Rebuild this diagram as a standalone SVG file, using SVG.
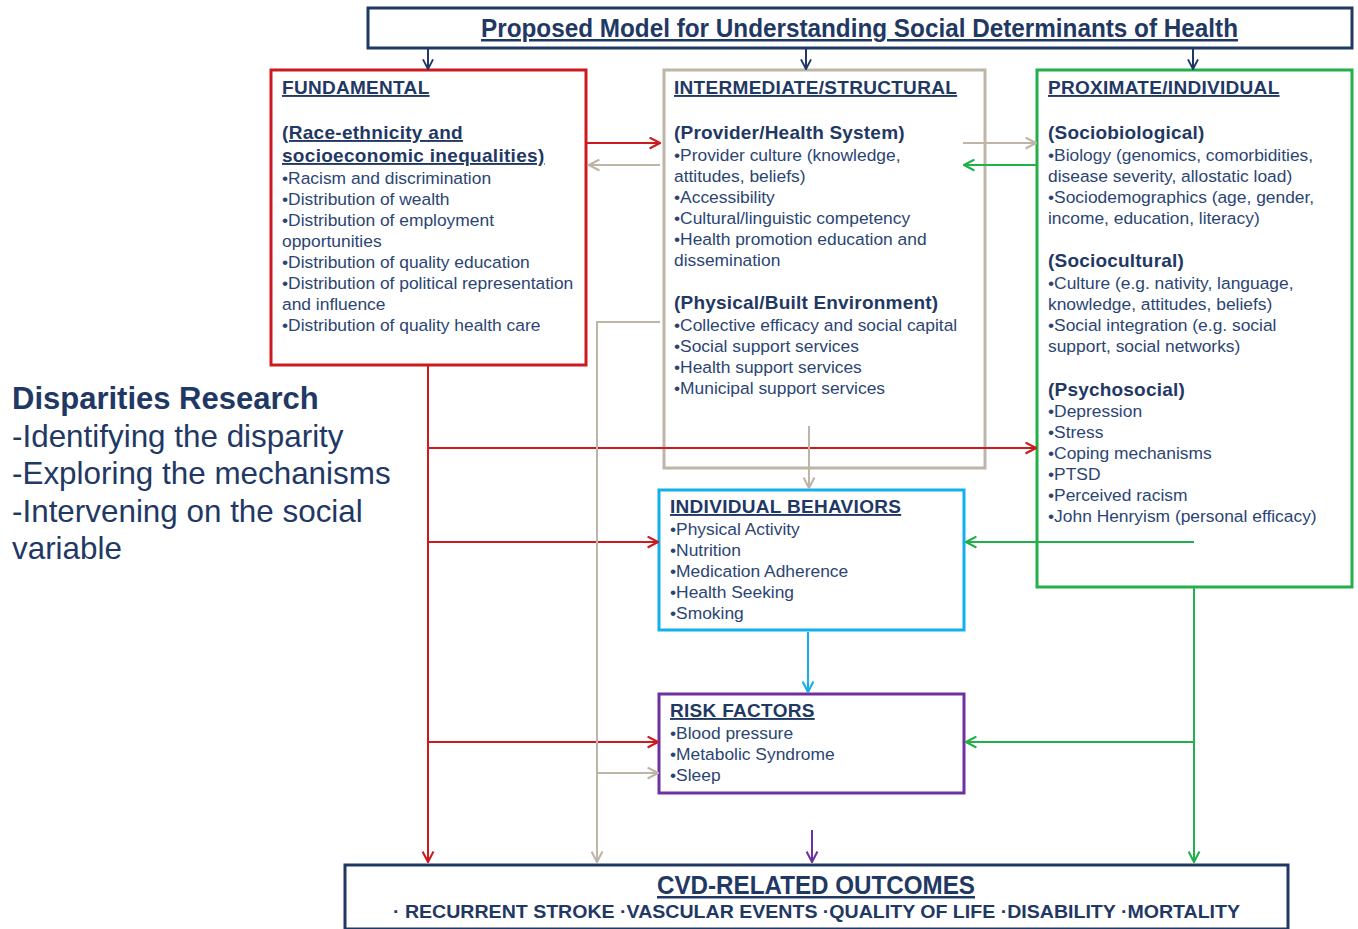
<svg xmlns="http://www.w3.org/2000/svg" width="1358" height="929" viewBox="0 0 1358 929">
<style>
.box{fill:#fff;stroke-width:3}
.h{font-family:"Liberation Sans",Arial,sans-serif;font-weight:bold;font-size:19px;letter-spacing:0.3px;fill:#1f3864;text-decoration:underline}
.sh{font-family:"Liberation Sans",Arial,sans-serif;font-weight:bold;font-size:19px;letter-spacing:0.2px;fill:#1f3864}
.b{font-family:"Liberation Sans",Arial,sans-serif;font-size:17.4px;fill:#2b4573}
.dr{font-family:"Liberation Sans",Arial,sans-serif;font-size:31.4px;fill:#1f3864}
.c{fill:none;stroke-width:2}
.red{stroke:#cc1a1f}.gray{stroke:#bdb6a7}.green{stroke:#22b04b}.cyan{stroke:#14b0ee}.purple{stroke:#7030a0}.navy{stroke:#1f3864}
</style>
<defs>
<marker id="mRed" viewBox="0 0 10 10" refX="9" refY="5" markerWidth="13" markerHeight="13" markerUnits="userSpaceOnUse" orient="auto"><path d="M1,0.8 L9,5 L1,9.2" fill="none" stroke="#cc1a1f" stroke-width="1.6"/></marker>
<marker id="mGray" viewBox="0 0 10 10" refX="9" refY="5" markerWidth="13" markerHeight="13" markerUnits="userSpaceOnUse" orient="auto"><path d="M1,0.8 L9,5 L1,9.2" fill="none" stroke="#bdb6a7" stroke-width="1.6"/></marker>
<marker id="mGreen" viewBox="0 0 10 10" refX="9" refY="5" markerWidth="13" markerHeight="13" markerUnits="userSpaceOnUse" orient="auto"><path d="M1,0.8 L9,5 L1,9.2" fill="none" stroke="#22b04b" stroke-width="1.6"/></marker>
<marker id="mCyan" viewBox="0 0 10 10" refX="9" refY="5" markerWidth="13" markerHeight="13" markerUnits="userSpaceOnUse" orient="auto"><path d="M1,0.8 L9,5 L1,9.2" fill="none" stroke="#14b0ee" stroke-width="1.6"/></marker>
<marker id="mPurple" viewBox="0 0 10 10" refX="9" refY="5" markerWidth="13" markerHeight="13" markerUnits="userSpaceOnUse" orient="auto"><path d="M1,0.8 L9,5 L1,9.2" fill="none" stroke="#7030a0" stroke-width="1.6"/></marker>
<marker id="mNavy" viewBox="0 0 10 10" refX="9" refY="5" markerWidth="12" markerHeight="12" markerUnits="userSpaceOnUse" orient="auto"><path d="M1,0.8 L9,5 L1,9.2" fill="none" stroke="#1f3864" stroke-width="1.6"/></marker>
</defs>
<rect width="1358" height="929" fill="#fff"/>

<g id="title">
<rect class="box navy" x="368" y="8" width="984" height="40"/>
<text x="481" y="37" textLength="757" lengthAdjust="spacingAndGlyphs" style="font-family:'Liberation Sans',Arial,sans-serif;font-weight:bold;font-size:25px;fill:#1f3864;text-decoration:underline">Proposed Model for Understanding Social Determinants of Health</text>
</g>

<g id="fundamental">
<rect class="box red" x="271" y="70" width="315" height="295"/>
<text class="h" x="282" y="94">FUNDAMENTAL</text>
<text class="h" x="282" y="139">(Race-ethnicity and</text>
<text class="h" x="282" y="162">socioeconomic inequalities)</text>
<text class="b" x="282" y="184">•Racism and discrimination</text>
<text class="b" x="282" y="205">•Distribution of wealth</text>
<text class="b" x="282" y="226">•Distribution of employment</text>
<text class="b" x="282" y="247">opportunities</text>
<text class="b" x="282" y="268">•Distribution of quality education</text>
<text class="b" x="282" y="289">•Distribution of political representation</text>
<text class="b" x="282" y="310">and influence</text>
<text class="b" x="282" y="331">•Distribution of quality health care</text>
</g>

<g id="intermediate">
<rect class="box gray" x="664" y="70" width="321" height="398"/>
<text class="h" x="674" y="94">INTERMEDIATE/STRUCTURAL</text>
<text class="sh" x="674" y="139">(Provider/Health System)</text>
<text class="b" x="674" y="161">•Provider culture (knowledge,</text>
<text class="b" x="674" y="182">attitudes, beliefs)</text>
<text class="b" x="674" y="203">•Accessibility</text>
<text class="b" x="674" y="224">•Cultural/linguistic  competency</text>
<text class="b" x="674" y="245">•Health promotion education and</text>
<text class="b" x="674" y="266">dissemination</text>
<text class="sh" x="674" y="309">(Physical/Built Environment)</text>
<text class="b" x="674" y="331">•Collective efficacy and social capital</text>
<text class="b" x="674" y="352">•Social support services</text>
<text class="b" x="674" y="373">•Health support services</text>
<text class="b" x="674" y="394">•Municipal support services</text>
</g>

<g id="proximate">
<rect class="box green" x="1037" y="70" width="315" height="517"/>
<text class="h" x="1048" y="94">PROXIMATE/INDIVIDUAL</text>
<text class="sh" x="1048" y="139">(Sociobiological)</text>
<text class="b" x="1048" y="161">•Biology (genomics, comorbidities,</text>
<text class="b" x="1048" y="182">disease severity, allostatic load)</text>
<text class="b" x="1048" y="203">•Sociodemographics (age, gender,</text>
<text class="b" x="1048" y="224">income, education, literacy)</text>
<text class="sh" x="1048" y="267">(Sociocultural)</text>
<text class="b" x="1048" y="289">•Culture (e.g. nativity, language,</text>
<text class="b" x="1048" y="310">knowledge, attitudes, beliefs)</text>
<text class="b" x="1048" y="331">•Social integration (e.g. social</text>
<text class="b" x="1048" y="352">support, social networks)</text>
<text class="sh" x="1048" y="396">(Psychosocial)</text>
<text class="b" x="1048" y="417">•Depression</text>
<text class="b" x="1048" y="438">•Stress</text>
<text class="b" x="1048" y="459">•Coping mechanisms</text>
<text class="b" x="1048" y="480">•PTSD</text>
<text class="b" x="1048" y="501">•Perceived racism</text>
<text class="b" x="1048" y="522">•John Henryism (personal efficacy)</text>
</g>

<g id="behaviors">
<rect class="box cyan" x="659" y="490" width="305" height="140"/>
<text class="h" x="670" y="513">INDIVIDUAL BEHAVIORS</text>
<text class="b" x="670" y="535">•Physical Activity</text>
<text class="b" x="670" y="556">•Nutrition</text>
<text class="b" x="670" y="577">•Medication Adherence</text>
<text class="b" x="670" y="598">•Health Seeking</text>
<text class="b" x="670" y="619">•Smoking</text>
</g>

<g id="risk">
<rect class="box purple" x="659" y="694" width="305" height="99"/>
<text class="h" x="670" y="717">RISK FACTORS</text>
<text class="b" x="670" y="739">•Blood pressure</text>
<text class="b" x="670" y="760">•Metabolic Syndrome</text>
<text class="b" x="670" y="781">•Sleep</text>
</g>

<g id="outcomes">
<rect class="box navy" x="345" y="865" width="943" height="64"/>
<text x="657" y="894" textLength="318" lengthAdjust="spacingAndGlyphs" style="font-family:'Liberation Sans',Arial,sans-serif;font-weight:bold;font-size:25px;fill:#1f3864;text-decoration:underline">CVD-RELATED OUTCOMES</text>
<text x="393" y="918" textLength="847" lengthAdjust="spacingAndGlyphs" style="font-family:'Liberation Sans',Arial,sans-serif;font-weight:bold;font-size:19px;fill:#1f3864">· RECURRENT STROKE  ·VASCULAR EVENTS ·QUALITY OF LIFE  ·DISABILITY ·MORTALITY</text>
</g>

<g id="disparities">
<text class="dr" x="12" y="409" style="font-weight:bold;font-size:31px">Disparities Research</text>
<text class="dr" x="12" y="447">-Identifying the disparity</text>
<text class="dr" x="12" y="484">-Exploring the mechanisms</text>
<text class="dr" x="12" y="522">-Intervening on the social</text>
<text class="dr" x="12" y="559">variable</text>
</g>

<g id="connectors">
<line class="c navy" x1="428" y1="49" x2="428" y2="69" marker-end="url(#mNavy)"/>
<line class="c navy" x1="806" y1="49" x2="806" y2="69" marker-end="url(#mNavy)"/>
<line class="c navy" x1="1193" y1="49" x2="1193" y2="69" marker-end="url(#mNavy)"/>

<line class="c red" x1="587" y1="143" x2="660" y2="143" marker-end="url(#mRed)"/>
<line class="c gray" x1="660" y1="165" x2="589" y2="165" marker-end="url(#mGray)"/>
<line class="c gray" x1="963" y1="143" x2="1036" y2="143" marker-end="url(#mGray)"/>
<line class="c green" x1="1037" y1="165" x2="964" y2="165" marker-end="url(#mGreen)"/>

<line class="c red" x1="428" y1="366" x2="428" y2="862" marker-end="url(#mRed)"/>
<line class="c red" x1="428" y1="448" x2="1036" y2="448" marker-end="url(#mRed)"/>
<line class="c red" x1="428" y1="542" x2="658" y2="542" marker-end="url(#mRed)"/>
<line class="c red" x1="428" y1="742" x2="658" y2="742" marker-end="url(#mRed)"/>

<polyline class="c gray" points="660,322 597,322 597,862" marker-end="url(#mGray)"/>
<line class="c gray" x1="597" y1="773" x2="658" y2="773" marker-end="url(#mGray)"/>
<line class="c gray" x1="809" y1="426" x2="809" y2="488" marker-end="url(#mGray)"/>

<line class="c cyan" x1="808" y1="632" x2="808" y2="692" marker-end="url(#mCyan)"/>

<line class="c green" x1="1194" y1="542" x2="966" y2="542" marker-end="url(#mGreen)"/>
<line class="c green" x1="1194" y1="588" x2="1194" y2="862" marker-end="url(#mGreen)"/>
<line class="c green" x1="1194" y1="742" x2="966" y2="742" marker-end="url(#mGreen)"/>

<line class="c purple" x1="812" y1="830" x2="812" y2="862" marker-end="url(#mPurple)"/>
</g>
</svg>
